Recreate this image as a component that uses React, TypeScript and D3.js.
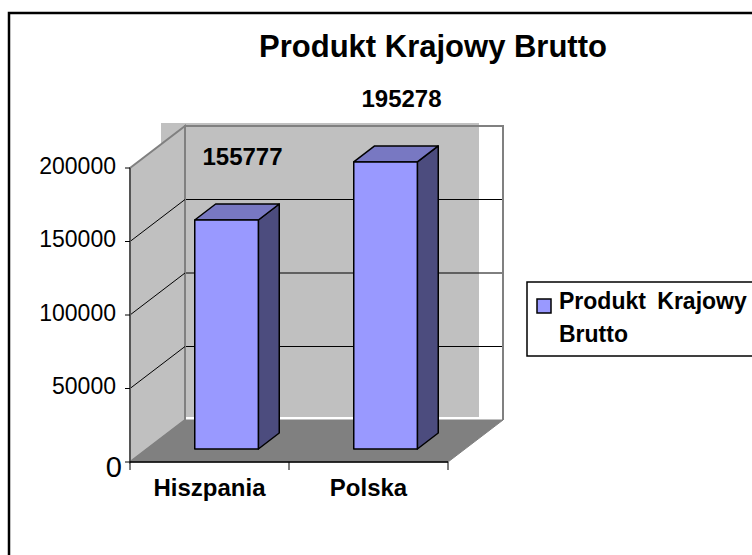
import React from "react";
import * as d3 from "d3";

const categories = ["Hiszpania", "Polska"];
const values = [155777, 195278];
const yTicks = [0, 50000, 100000, 150000, 200000];
const seriesName = "Produkt Krajowy Brutto";
const titleText = "Produkt Krajowy Brutto";
const legendLines = ["Produkt Krajowy", "Brutto"];

const FONT = "Arial, 'Liberation Sans', sans-serif";
const DX = 55;
const DY = -42;
const FRONT_X0 = 130;
const FRONT_X1 = 448;

export default function App() {
  const y = d3.scaleLinear().domain([0, 200000]).range([462, 168]);
  const xb = d3.scaleBand().domain(categories).range([FRONT_X0, FRONT_X1]).padding(0);
  const bw = xb.bandwidth();
  const barW = bw * 0.4;
  const d0 = 0.31;
  const d1 = 0.69;
  const proj = (x: number, v: number, d: number): [number, number] => [x + DX * d, y(v) + DY * d];
  const pts = (arr: [number, number][]) => arr.map((p) => p.join(",")).join(" ");

  const yMax = 200000;
  const backTL = proj(FRONT_X0, yMax, 1);
  const backBR = proj(FRONT_X1, 0, 1);

  const barColors = { front: "#9999ff", top: "#7878c2", side: "#4c4c7e" };

  return (
    <svg
      width={752}
      height={555}
      style={{ position: "fixed", left: 0, top: 0, background: "#fff" }}
      fontFamily={FONT}
    >
      <rect x={0} y={0} width={752} height={555} fill="#fff" />
      {/* back wall fill (offset as in reference) */}
      <rect
        x={backTL[0] - 24}
        y={backTL[1] - 3}
        width={backBR[0] - backTL[0]}
        height={backBR[1] - backTL[1]}
        fill="#c0c0c0"
      />
      {/* back wall gridlines */}
      {yTicks.filter((t) => t > 0 && t < yMax).map((t) => {
        const a = proj(FRONT_X0, t, 1);
        const b = proj(FRONT_X1, t, 1);
        return <line key={"bg" + t} x1={a[0]} y1={a[1]} x2={b[0]} y2={b[1]} stroke="#000" strokeWidth={1} />;
      })}
      {/* back wall outline */}
      <polyline
        points={pts([proj(FRONT_X0, 0, 1), proj(FRONT_X0, yMax, 1), proj(FRONT_X1, yMax, 1), proj(FRONT_X1, 0, 1)])}
        fill="none"
        stroke="#808080"
        strokeWidth={2}
      />
      {/* side wall */}
      <polygon
        points={pts([proj(FRONT_X0, yMax, 0), proj(FRONT_X0, yMax, 1), proj(FRONT_X0, 0, 1), proj(FRONT_X0, 0, 0)])}
        fill="#c0c0c0"
        stroke="#808080"
        strokeWidth={2}
      />
      {yTicks.filter((t) => t > 0 && t < yMax).map((t) => {
        const a = proj(FRONT_X0, t, 0);
        const b = proj(FRONT_X0, t, 1);
        return <line key={"sg" + t} x1={a[0]} y1={a[1]} x2={b[0]} y2={b[1]} stroke="#000" strokeWidth={1} />;
      })}
      {/* floor */}
      <polygon
        points={pts([proj(FRONT_X0, 0, 0), proj(FRONT_X1, 0, 0), proj(FRONT_X1, 0, 1), proj(FRONT_X0, 0, 1)])}
        fill="#808080"
        stroke="#808080"
        strokeWidth={1}
      />
      {/* front vertical axis */}
      <line x1={FRONT_X0} y1={y(0)} x2={FRONT_X0} y2={y(yMax)} stroke="#555" strokeWidth={2} />
      {/* bars */}
      {categories.map((c, i) => {
        const v = values[i];
        const bx = (xb(c) as number) + (bw - barW) / 2;
        const front = [proj(bx, v, d0), proj(bx + barW, v, d0), proj(bx + barW, 0, d0), proj(bx, 0, d0)] as [number, number][];
        const top = [proj(bx, v, d0), proj(bx + barW, v, d0), proj(bx + barW, v, d1), proj(bx, v, d1)] as [number, number][];
        const side = [proj(bx + barW, v, d0), proj(bx + barW, v, d1), proj(bx + barW, 0, d1), proj(bx + barW, 0, d0)] as [number, number][];
        return (
          <g key={c} stroke="#000" strokeWidth={1.5} strokeLinejoin="round">
            <polygon points={pts(side)} fill={barColors.side} />
            <polygon points={pts(top)} fill={barColors.top} />
            <polygon points={pts(front)} fill={barColors.front} />
          </g>
        );
      })}
      {/* category axis */}
      <line x1={FRONT_X0} y1={y(0)} x2={FRONT_X1} y2={y(0)} stroke="#000" strokeWidth={1.5} />
      {[...categories.map((c) => xb(c) as number), FRONT_X1].map((x, i) => (
        <line key={"ct" + i} x1={x} y1={y(0)} x2={x} y2={y(0) + 8} stroke="#000" strokeWidth={1} />
      ))}
      {categories.map((c) => (
        <text
          key={"cl" + c}
          x={(xb(c) as number) + bw / 2}
          y={496}
          textAnchor="middle"
          fontSize={24}
          fontWeight="bold"
          fill="#000"
        >
          {c}
        </text>
      ))}
      {/* value axis ticks and labels */}
      {yTicks.map((t) => (
        <g key={"yt" + t}>
          <line x1={FRONT_X0 - 5} y1={y(t)} x2={FRONT_X0} y2={y(t)} stroke="#000" strokeWidth={1} />
          <text
            x={t === 0 ? FRONT_X0 - 8 : FRONT_X0 - 14}
            y={y(t) + (t === 0 ? 15 : 5.5)}
            textAnchor="end"
            fontSize={t === 0 ? 29 : 23}
            fill="#000"
          >
            {t}
          </text>
        </g>
      ))}
      {/* data labels */}
      {categories.map((c, i) => (
        <text
          key={"dl" + c}
          x={(xb(c) as number) + bw / 2 + DX * 0.6}
          y={y(values[i]) + DY * d1 - 39}
          textAnchor="middle"
          fontSize={24}
          fontWeight="bold"
          fill="#000"
        >
          {values[i]}
        </text>
      ))}
      {/* title */}
      <text x={433} y={57} textAnchor="middle" fontSize={31} fontWeight="bold" fill="#000">
        {titleText}
      </text>
      {/* legend */}
      <g>
        <rect x={527} y={282} width={300} height={74} fill="#fff" stroke="#000" strokeWidth={1.5} />
        <rect x={537} y={299} width={14} height={14} fill={barColors.front} stroke="#000" strokeWidth={1.5} />
        <title>{seriesName}</title>
        {legendLines.map((l, i) => (
          <text key={"lg" + i} x={559} y={309 + i * 33} fontSize={23} fontWeight="bold" wordSpacing={5} fill="#000">
            {l}
          </text>
        ))}
      </g>
      {/* outer frame */}
      <rect x={9} y={13} width={800} height={600} fill="none" stroke="#000" strokeWidth={2.5} />
    </svg>
  );
}
